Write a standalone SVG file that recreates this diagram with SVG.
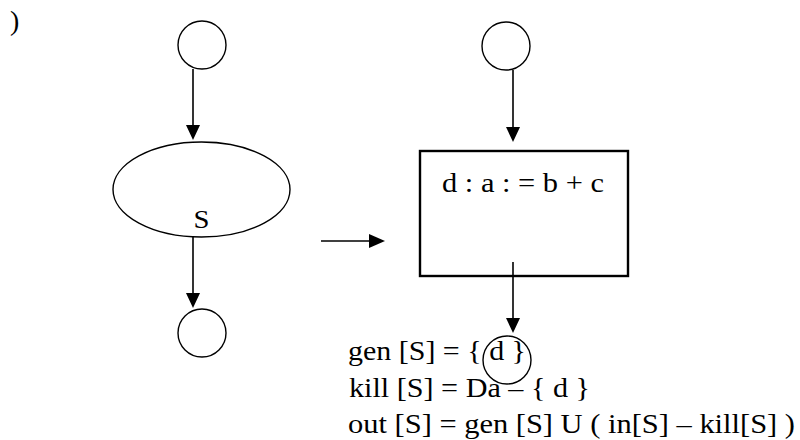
<svg xmlns="http://www.w3.org/2000/svg" width="800" height="440" viewBox="0 0 800 440">
<defs>
<style>
.shape{fill:#fff;stroke:#000;stroke-width:1.4}
.box{fill:#fff;stroke:#000;stroke-width:2.4}
.edge{stroke:#000;stroke-width:1.6;fill:none}
.head{fill:#000;stroke:none}
text{font-family:"Liberation Serif","Times New Roman",serif;fill:#000}
</style>
</defs>
<rect width="800" height="440" fill="#fff"/>
<text x="10" y="30" font-size="28">)</text>
<g id="n-top-left"><circle class="shape" cx="202" cy="45" r="24"/></g>
<g id="n-S"><ellipse class="shape" cx="201.5" cy="189.5" rx="88.5" ry="47.5"/><text x="193.5" y="228" font-size="26" textLength="16" lengthAdjust="spacingAndGlyphs">S</text></g>
<g id="n-bottom-left"><circle class="shape" cx="202" cy="333" r="24"/></g>
<g id="n-top-right"><circle class="shape" cx="506" cy="46" r="24"/></g>
<g id="n-box"><rect class="box" x="420" y="151" width="208" height="125"/><text x="442" y="192" font-size="28" textLength="162" lengthAdjust="spacingAndGlyphs">d : a : = b + c</text></g>
<g id="n-bottom-right"><circle class="shape" cx="507" cy="360" r="24"/></g>
<g id="connectors">
<line class="edge" x1="193" y1="69" x2="193" y2="128"/><polygon class="head" points="186,125 200,125 193,140"/>
<line class="edge" x1="193" y1="237" x2="193" y2="296"/><polygon class="head" points="186,293 200,293 193,308"/>
<line class="edge" x1="321" y1="241" x2="372" y2="241"/><polygon class="head" points="369,234 369,248 385,241"/>
<line class="edge" x1="513" y1="70" x2="513" y2="130"/><polygon class="head" points="506,127 520,127 513,142"/>
<line class="edge" x1="513" y1="262" x2="513" y2="321"/><polygon class="head" points="506,318 520,318 513,333"/>
</g>
<g id="equations" font-size="28">
<text x="348" y="360" textLength="178" lengthAdjust="spacingAndGlyphs">gen [S] = { d }</text>
<text x="349" y="397" textLength="241" lengthAdjust="spacingAndGlyphs">kill [S] = Da – { d }</text>
<text x="348" y="433" textLength="447" lengthAdjust="spacingAndGlyphs">out [S] = gen [S] U ( in[S] – kill[S] )</text>
</g>
</svg>
